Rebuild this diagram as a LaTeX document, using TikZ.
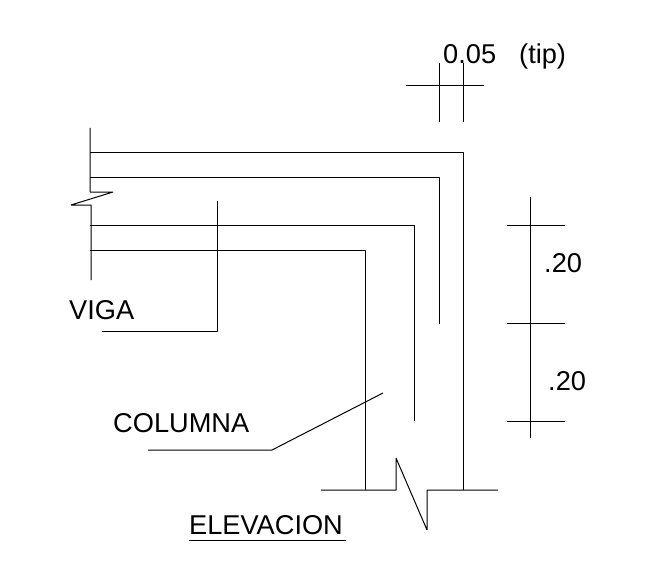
\documentclass[tikz,border=0pt]{standalone}
\usepackage{fontspec}
\setmainfont{Liberation Sans}
\tikzset{
  every label text/.style={anchor=base west, inner sep=0pt, font=\fontsize{27.2}{30}\selectfont},
  line/.style={draw=black, line width=1pt, line join=bevel}
}

\begin{document}
\begin{tikzpicture}[x=1pt, y=-1pt]

\useasboundingbox [fill=white] (0,0) rectangle (660,580);

% beam edge with break
\foreach \n/\x/\y in {beam-a/90/128, beam-b/90/192, beam-c/113/192, beam-d/71/205, beam-e/91/205, beam-f/91/280}
  \coordinate (\n) at (\x,\y);
\draw [line] (beam-a) -- (beam-b) -- (beam-c) -- (beam-d) -- (beam-e) -- (beam-f);

% bars and faces
\foreach \m/\y/\x/\e in {1/153/463/490, 2/177/439/324, 3/225/414/421, 4/250/365/490} {
  \coordinate (start-\m) at (90,\y);
  \coordinate (corner-\m) at (\x,\y);
  \coordinate (end-\m) at (\x,\e);
  \draw [line] (start-\m) -- (corner-\m) -- (end-\m);
}

% base with break
\foreach \n/\x/\y in {base-a/321/490, base-b/396/490, base-c/396/458, base-d/427/530, base-e/427/490, base-f/498/490}
  \coordinate (\n) at (\x,\y);
\draw [line] (base-a) -- (base-b) -- (base-c) -- (base-d) -- (base-e) -- (base-f);

% top dimension
\coordinate (top-l) at (406,86);
\coordinate (top-r) at (484,86);
\draw [line] (top-l) -- (top-r);
\foreach \x in {439,463} {
  \coordinate (top-\x-a) at (\x,63);
  \coordinate (top-\x-b) at (\x,122);
  \draw [line] (top-\x-a) -- (top-\x-b);
}

% side dimension
\coordinate (side-a) at (530,197);
\coordinate (side-b) at (530,438);
\draw [line] (side-a) -- (side-b);
\foreach \y in {225,323,421} {
  \coordinate (tick-\y-a) at (507,\y);
  \coordinate (tick-\y-b) at (565,\y);
  \draw [line] (tick-\y-a) -- (tick-\y-b);
}

% labels
\node [every label text] (tip-size) at (443,64) {0.05};
\node [every label text] (tip-note) at (519,64) {(tip)};
\node [every label text] (dim-1) at (544,272) {.20};
\node [every label text] (dim-2) at (548,390) {.20};
\node [every label text] (viga) at (69,319) {VIGA};
\node [every label text] (columna) at (113,432) {COLUMNA};
\node [every label text] (elevacion) at (189,534) {ELEVACION};

% leaders
\coordinate (viga-a) at (102,331);
\coordinate (viga-b) at (217,331);
\coordinate (viga-c) at (217,201);
\draw [line] (viga-a) -- (viga-b) -- (viga-c);

\coordinate (col-a) at (148,450);
\coordinate (col-b) at (272,450);
\coordinate (col-c) at (383,393);
\draw [line] (col-a) -- (col-b) -- (col-c);

\coordinate (under-a) at (189,540);
\coordinate (under-b) at (346,540);
\draw [line] (under-a) -- (under-b);

\end{tikzpicture}
\end{document}
